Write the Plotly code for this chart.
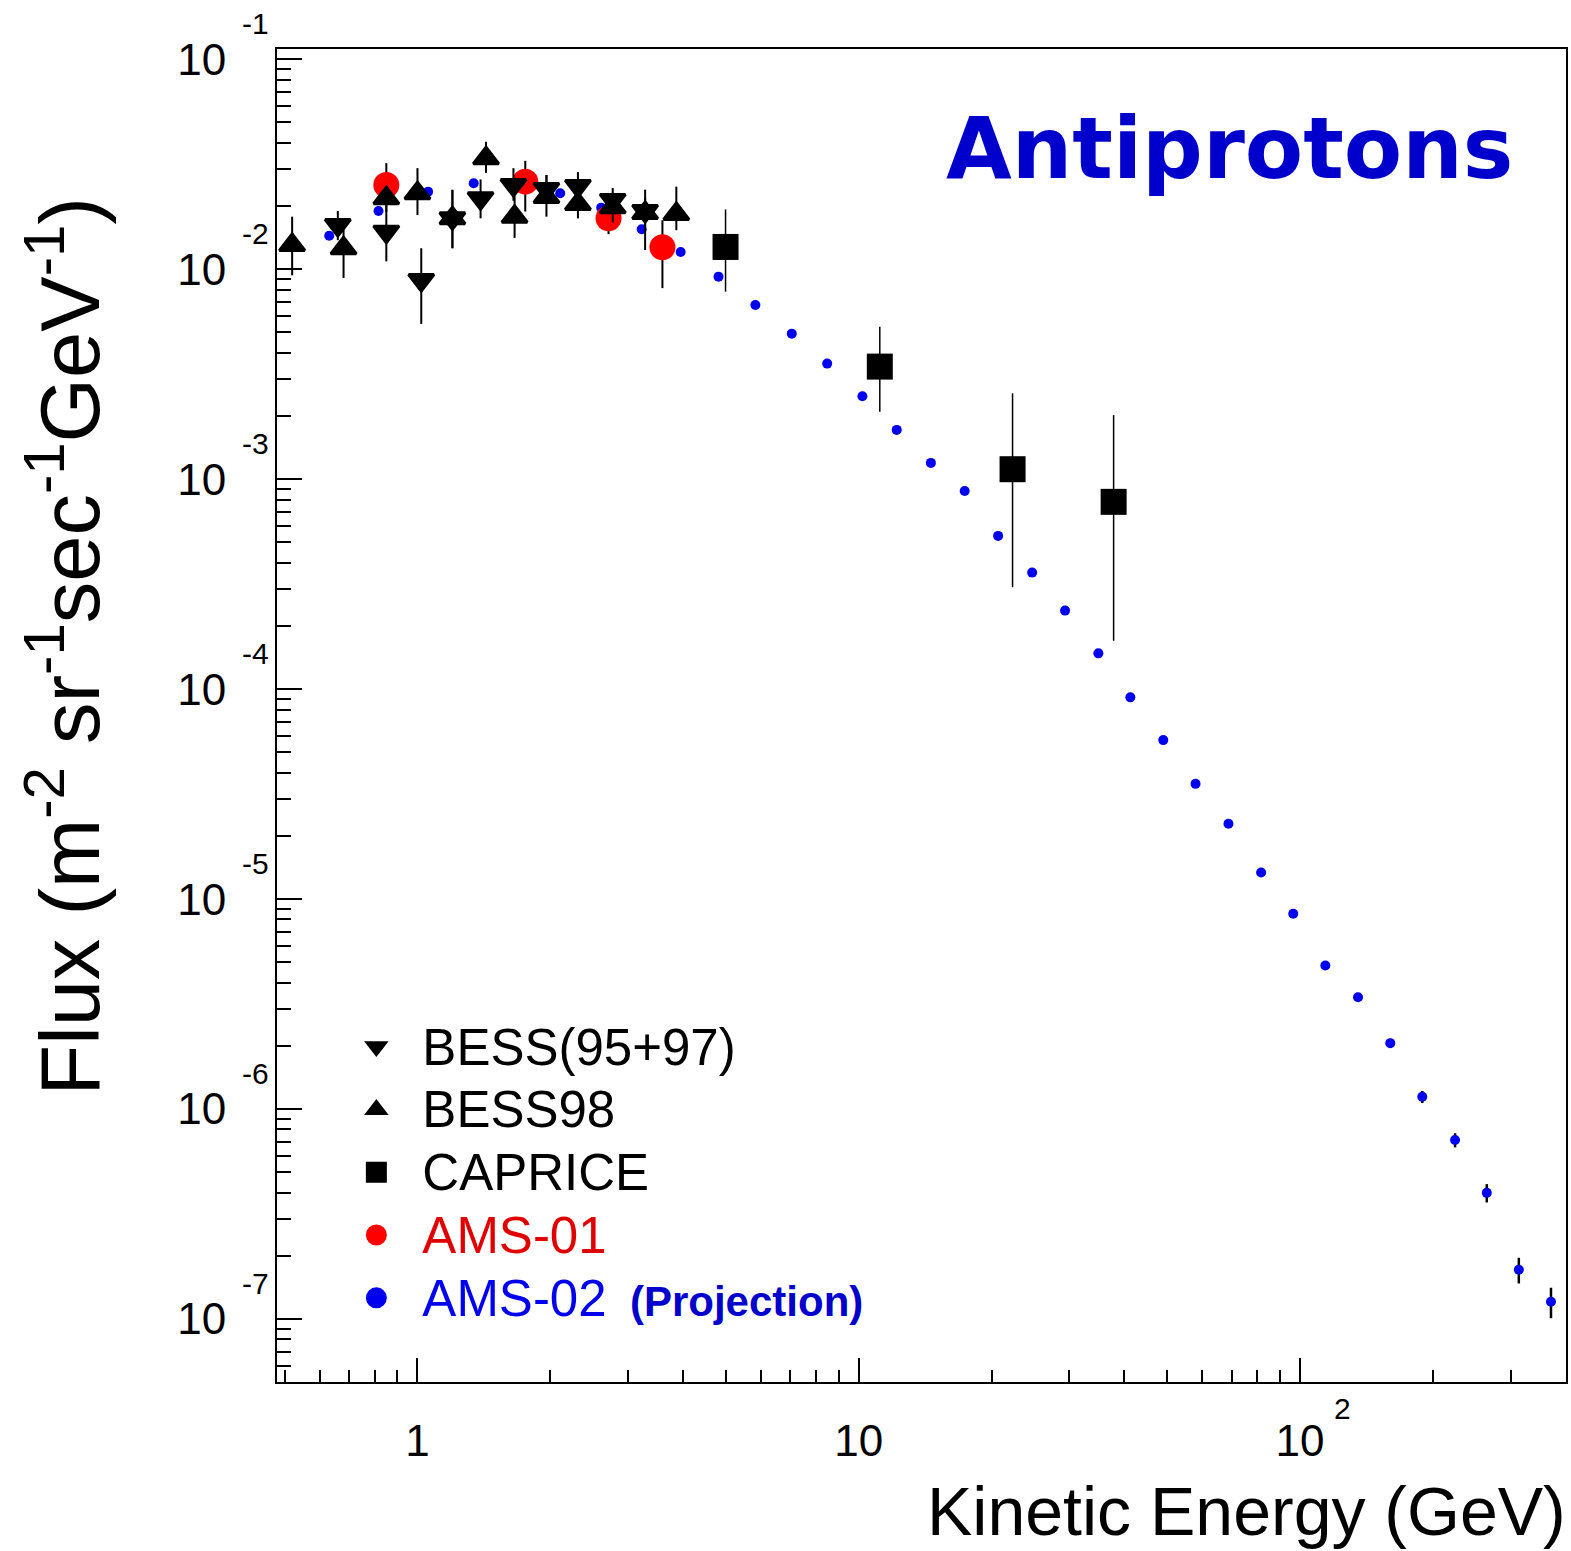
import plotly.graph_objects as go

# ---------------- data ----------------
bess9597_E = [0.66, 0.85, 1.02, 1.20, 1.39, 1.65, 1.96, 2.31, 2.77, 3.28]
bess9597_F = [0.01625, 0.0151, 0.00889, 0.01749, 0.02178, 0.0252, 0.02412, 0.02493, 0.02138, 0.01895]
bess9597_up = [0.0027, 0.005, 0.0037, 0.0064, 0.005, 0.0051, 0.004, 0.0041, 0.003, 0.003]
bess9597_dn = [0.0025, 0.0042, 0.0034, 0.0049, 0.0043, 0.004, 0.0035, 0.003, 0.003, 0.003]

bess98_E = [0.52, 0.68, 0.85, 1.00, 1.20, 1.43, 1.66, 1.96, 2.31, 2.77, 3.28, 3.86]
bess98_F = [0.01305, 0.01259, 0.02178, 0.02301, 0.01749, 0.03378, 0.0178, 0.0221, 0.02046, 0.01973, 0.01854, 0.01834]
bess98_up = [0.00475, 0.0049, 0.003, 0.0073, 0.0064, 0.0067, 0.0045, 0.006, 0.004, 0.003, 0.0054, 0.0064]
bess98_dn = [0.0037, 0.0035, 0.003, 0.0049, 0.0049, 0.005, 0.0037, 0.0043, 0.003, 0.003, 0.0062, 0.003]

caprice_E = [4.99, 11.16, 22.31, 37.8]
caprice_F = [0.01277, 0.003438, 0.0011157, 0.00078]
caprice_up = [0.0065, 0.00189, 0.00145, 0.00124]
caprice_dn = [0.00495, 0.00134, 0.00081, 0.00061]

ams01_E = [0.85, 1.755, 2.71, 3.59]
ams01_F = [0.0252, 0.02613, 0.01749, 0.01273]
ams01_up = [0.0068, 0.0067, 0.004, 0.0044]
ams01_dn = [0.005, 0.0073, 0.0028, 0.0046]

ams02_E = [0.631, 0.816, 1.057, 1.341, 2.106, 2.608, 3.222, 3.948, 4.81, 5.83,
           7.05, 8.48, 10.19, 12.19, 14.57, 17.38, 20.69, 24.71, 29.34, 34.91,
           41.25, 48.98, 57.96, 68.83, 81.6, 96.5, 114.1, 135.3, 160.1, 189.2,
           224.5, 264.9, 313.1, 370.3]
ams02_F = [0.01445, 0.01895, 0.02342, 0.02568, 0.02301, 0.01965, 0.0155, 0.01209, 0.009221, 0.006761,
           0.004934, 0.003553, 0.002485, 0.001717, 0.001196, 8.79e-4, 5.37e-4, 3.59e-4, 2.367e-4, 1.481e-4,
           9.14e-5, 5.72e-5, 3.54e-5, 2.286e-5, 1.34e-5, 8.52e-6, 4.83e-6, 3.41e-6, 2.06e-6, 1.144e-6,
           7.12e-7, 3.99e-7, 1.717e-7, 1.209e-7]
ams02_err = [0, 0, 0, 0, 0, 0, 0, 0, 0, 0,
             0, 0, 0, 0, 0, 0, 0, 0, 0, 0,
             0, 0, 0, 0, 0, 0, 1.5e-7, 1.4e-7, 1.0e-7, 7.5e-8,
             5.5e-8, 4.0e-8, 2.4e-8, 2.0e-8]

x_tickvals = [1, 10, 100]
x_ticktext = ["1", "10", "10"]
y_tickvals = [1e-1, 1e-2, 1e-3, 1e-4, 1e-5, 1e-6, 1e-7]
y_ticktext = ["10"] * 7
y_exponents = [-1, -2, -3, -4, -5, -6, -7]

x_minor = [d * 10 ** e for e in range(-1, 3) for d in range(2, 10)]
y_minor = [d * 10.0 ** e for e in range(-8, 0) for d in range(2, 10)]

FONT = "Liberation Sans, Arial, Helvetica, sans-serif"
BLUE = "#0000ee"
DBLUE = "#0000cc"
RED = "#ff0000"
LEG = "font-size:51px"

fig = go.Figure()


def err(up, dn, thick=2):
    return dict(type="data", array=up, arrayminus=dn, symmetric=False,
                color="black", thickness=thick, width=0)


# legend-only entries (in ROOT legend order)
fig.add_trace(go.Scatter(x=[None], y=[None], mode="markers",
                         name='<span style="%s">BESS(95+97)</span>' % LEG,
                         marker=dict(symbol="triangle-down", size=16, color="black",
                                     line=dict(color="black", width=3))))
fig.add_trace(go.Scatter(x=[None], y=[None], mode="markers",
                         name='<span style="%s">BESS98</span>' % LEG,
                         marker=dict(symbol="triangle-up", size=16, color="black",
                                     line=dict(color="black", width=3))))
fig.add_trace(go.Scatter(x=[None], y=[None], mode="markers",
                         name='<span style="%s">CAPRICE</span>' % LEG,
                         marker=dict(symbol="square", size=16, color="black",
                                     line=dict(color="black", width=5))))
fig.add_trace(go.Scatter(x=[None], y=[None], mode="markers",
                         name='<span style="color:#e00000;%s">AMS-01</span>' % LEG,
                         marker=dict(symbol="circle", size=16, color=RED,
                                     line=dict(color=RED, width=5))))
fig.add_trace(go.Scatter(x=[None], y=[None], mode="markers",
                         name=('<span style="color:%s;%s">AMS-02</span>'
                               '<span style="color:%s;font-family:Liberation Sans, Arial;'
                               'font-size:42px">\u00a0\u00a0<b>(Projection)</b></span>') % (BLUE, LEG, DBLUE),
                         marker=dict(symbol="circle", size=16, color=BLUE,
                                     line=dict(color=BLUE, width=5))))

# data traces (drawing order: AMS-02 bottom)
fig.add_trace(go.Scatter(x=ams02_E, y=ams02_F, mode="markers", showlegend=False,
                         marker=dict(symbol="circle", size=10, color=BLUE),
                         error_y=dict(type="data", array=ams02_err, color="black",
                                      thickness=2.5, width=0)))
fig.add_trace(go.Scatter(x=ams01_E, y=ams01_F, mode="markers", showlegend=False,
                         marker=dict(symbol="circle", size=26, color=RED),
                         error_y=err(ams01_up, ams01_dn)))
fig.add_trace(go.Scatter(x=caprice_E, y=caprice_F, mode="markers", showlegend=False,
                         marker=dict(symbol="square", size=26, color="black"),
                         error_y=err(caprice_up, caprice_dn, 1.5)))
fig.add_trace(go.Scatter(x=bess98_E, y=bess98_F, mode="markers", showlegend=False,
                         marker=dict(symbol="triangle-up", size=22, color="black",
                                     line=dict(color="black", width=3)),
                         error_y=err(bess98_up, bess98_dn)))
fig.add_trace(go.Scatter(x=bess9597_E, y=bess9597_F, mode="markers", showlegend=False,
                         marker=dict(symbol="triangle-down", size=22, color="black",
                                     line=dict(color="black", width=3)),
                         error_y=err(bess9597_up, bess9597_dn)))

annotations = []
for k in y_exponents:
    annotations.append(dict(text=str(k), x=0, xref="paper", xanchor="right", xshift=-6,
                            y=k, yref="y", yanchor="middle", yshift=36, showarrow=False,
                            font=dict(family=FONT, size=30, color="black")))
annotations.append(dict(text="2", x=2, xref="x", xanchor="center", xshift=42,
                        y=0, yref="paper", yanchor="middle", yshift=-26, showarrow=False,
                        font=dict(family=FONT, size=30, color="black")))
annotations.append(dict(text="Kinetic Energy (GeV)", x=1.0015, xref="paper", xanchor="right",
                        y=-0.097, yref="paper", yanchor="middle", showarrow=False,
                        font=dict(family=FONT, size=68, color="black")))
annotations.append(dict(text="Flux (m<sup>-2</sup> sr<sup>-1</sup>sec<sup>-1</sup>GeV<sup>-1</sup>)",
                        x=-0.1656, xref="paper", xanchor="center",
                        y=0.8898, yref="paper", yanchor="top", textangle=-90, showarrow=False,
                        font=dict(family=FONT, size=83, color="black")))
annotations.append(dict(text="<b>Antiprotons</b>", x=0.5174, xref="paper", xanchor="left",
                        y=0.925, yref="paper", yanchor="middle", showarrow=False,
                        font=dict(family="DejaVu Sans", size=85, color=DBLUE)))

fig.update_layout(
    width=1571, height=1551,
    margin=dict(l=277, r=3, t=49, b=169),
    paper_bgcolor="white", plot_bgcolor="white",
    font=dict(family=FONT, color="black"),
    showlegend=True,
    legend=dict(x=0.0414, xanchor="left", y=0.2789, yanchor="top",
                bgcolor="rgba(0,0,0,0)", borderwidth=0, traceorder="normal",
                itemwidth=82,
                font=dict(family=FONT, size=46, color="black")),
    annotations=annotations,
)

fig.update_xaxes(type="log", range=[-0.3183, 2.6026], showgrid=False, zeroline=False,
                 showline=True, linecolor="black", linewidth=2, mirror=True,
                 ticks="inside", ticklen=24, tickwidth=1.5, tickcolor="black",
                 tickmode="array", tickvals=x_tickvals, ticktext=x_ticktext,
                 tickfont=dict(family=FONT, size=44, color="black"),
                 ticklabelstandoff=19,
                 minor=dict(ticks="inside", ticklen=12, tickwidth=1.5, tickcolor="black",
                            tickmode="array", tickvals=x_minor, showgrid=False))
fig.update_yaxes(type="log", range=[-7.3, -0.951], showgrid=False, zeroline=False,
                 showline=True, linecolor="black", linewidth=2, mirror=True,
                 ticks="inside", ticklen=25, tickwidth=1.5, tickcolor="black",
                 tickmode="array", tickvals=y_tickvals, ticktext=y_ticktext,
                 tickfont=dict(family=FONT, size=44, color="black"),
                 ticklabelstandoff=40,
                 minor=dict(ticks="inside", ticklen=14, tickwidth=1.5, tickcolor="black",
                            tickmode="array", tickvals=y_minor, showgrid=False))

fig.write_html("out.html")
